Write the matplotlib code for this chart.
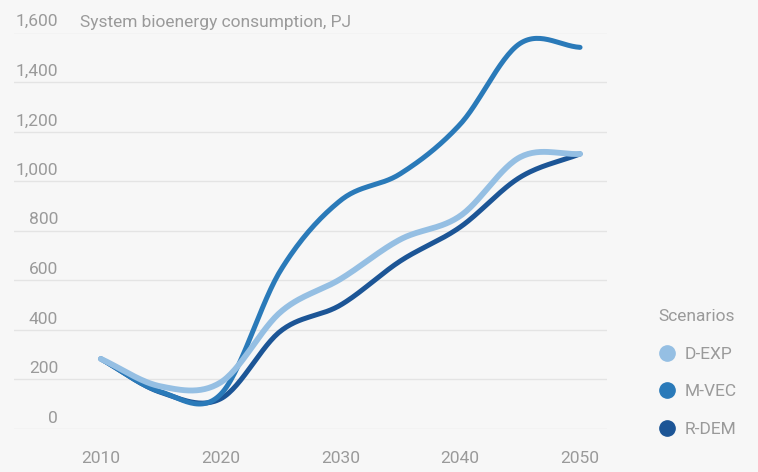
import numpy as np
import matplotlib
matplotlib.use("Agg")
import matplotlib.pyplot as plt
from matplotlib.lines import Line2D

# ---- data (PJ)
years = [2010, 2015, 2020, 2025, 2030, 2035, 2040, 2045, 2050]
d_exp = [283, 172, 188, 472, 605, 765, 860, 1097, 1110]
m_vec = [283, 150, 140, 640, 922, 1030, 1230, 1556, 1540]
r_dem = [283, 148, 122, 395, 500, 678, 815, 1016, 1110]

series = [("D-EXP", d_exp, "#95bfe3"),
          ("M-VEC", m_vec, "#2a7ab9"),
          ("R-DEM", r_dem, "#1c5596")]
yticks = [0, 200, 400, 600, 800, 1000, 1200, 1400, 1600]
xticks = [2010, 2020, 2030, 2040, 2050]

GREY = "#9a9a9a"
BG = "#f7f7f7"
FONT = "Roboto"


def catmull_rom(x, y, n=30):
    # smooth curve through the points (cubic Hermite, Catmull-Rom tangents)
    x = np.asarray(x, float)
    y = np.asarray(y, float)
    m = np.empty_like(y)
    m[1:-1] = (y[2:] - y[:-2]) / (x[2:] - x[:-2])
    m[0] = (y[1] - y[0]) / (x[1] - x[0])
    m[-1] = (y[-1] - y[-2]) / (x[-1] - x[-2])
    xs, ys = [], []
    for i in range(len(x) - 1):
        h = x[i + 1] - x[i]
        t = np.linspace(0, 1, n, endpoint=False)
        h00 = 2 * t**3 - 3 * t**2 + 1
        h10 = t**3 - 2 * t**2 + t
        h01 = -2 * t**3 + 3 * t**2
        h11 = t**3 - t**2
        xs.append(x[i] + t * h)
        ys.append(h00 * y[i] + h10 * h * m[i] + h01 * y[i + 1] + h11 * h * m[i + 1])
    xs.append([x[-1]])
    ys.append([y[-1]])
    return np.concatenate(xs), np.concatenate(ys)


W, H = 758, 472
fig = plt.figure(figsize=(W / 100, H / 100), dpi=100, facecolor=BG)
ax = fig.add_axes([14 / W, 1 - 429 / H, (607 - 14) / W, (429 - 32.5) / H])
ax.set_facecolor(BG)
ax.set_xlim(2002.75, 2052.25)
ax.set_ylim(0, 1600)
for s in ax.spines.values():
    s.set_visible(False)

for v in yticks:
    ax.axhline(v, color="#e4e4e4", lw=1, zorder=1)
    ax.annotate(f"{v:,}", xy=(0.0742, v), xycoords=("axes fraction", "data"),
                xytext=(0, 4.5), textcoords="offset points",
                ha="right", va="baseline", color=GREY, fontsize=12.5,
                family=FONT)

ax.set_yticks([])
ax.set_xticks(xticks)
ax.set_xticklabels([str(x) for x in xticks], color=GREY, fontsize=12.5,
                   family=FONT)
ax.tick_params(axis="x", length=0, pad=16)

for name, vals, col in reversed(series):
    xs, ys = catmull_rom(years, vals)
    lw = 4.2 if name == "D-EXP" else 3.6
    z = 4 if name == "D-EXP" else 3
    ax.plot(xs, ys, color=col, lw=lw, solid_capstyle="round", zorder=z,
            clip_on=False)

fig.text(80 / W, 1 - 26.5 / H, "System bioenergy consumption, PJ",
         color=GREY, fontsize=12.5, family=FONT,
         ha="left", va="baseline")

handles = [Line2D([], [], marker="o", linestyle="none", markersize=11,
                  markerfacecolor=c, markeredgecolor=c, label=n)
           for n, _, c in series]
leg = fig.legend(handles=handles, title="Scenarios", loc="upper left",
                 bbox_to_anchor=(658 / W, 1 - 309 / H), frameon=False,
                 handletextpad=0.55, labelspacing=1.3, handlelength=1.0,
                 prop={"family": FONT, "size": 12.5},
                 title_fontproperties={"family": FONT, "size": 12.5},
                 alignment="left", borderaxespad=0, borderpad=0)
for t in leg.get_texts():
    t.set_color(GREY)
leg.get_title().set_color(GREY)

fig.savefig("out.png", dpi=100, facecolor=BG)
